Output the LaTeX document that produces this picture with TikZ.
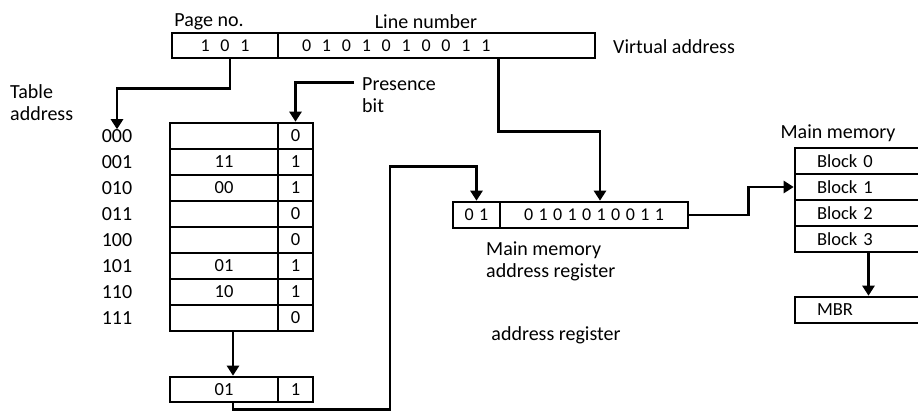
\documentclass[tikz,border=0pt]{standalone}
\usepackage{fontspec}
\setmainfont{Carlito}
\newfontfamily\widebits[LetterSpace=60]{Carlito}
\newfontfamily\tightbits[LetterSpace=30]{Carlito}
\usepackage{tikz}
\usetikzlibrary{arrows.meta,positioning}

\begin{document}
\begin{tikzpicture}[
    x=1pt, y=-1pt,
    cell/.style = {rectangle, draw, line width=2.6pt, inner sep=0pt, minimum height=26pt, font=\fontsize{18.5}{22}\selectfont},
    blockcell/.style = {cell, minimum height=26pt, text width=111pt, inner xsep=22pt, align=left},
    txt/.style = {inner sep=0pt, font=\fontsize{20}{22}\selectfont, align=left},
    arrow/.style = {-{Triangle[length=10pt,width=12pt]}, line width=2.6pt}
]
    \useasboundingbox (0,0) rectangle (918,410);
    \clip (0,0) rectangle (918,410);

    % Virtual address
    \node [cell, minimum width=106pt, minimum height=25pt, font=\fontsize{18}{22}\widebits] (pg) at (225,45.5) {101};
    \node [cell, minimum width=317pt, minimum height=25pt, text width=269pt, inner xsep=24pt, align=left, font=\fontsize{18}{22}\widebits] (ln) at (436.5,45.5) {0101010011};
    \node [txt] (pglabel) at (209,22) {Page no.};
    \node [txt] (lnlabel) at (426,22) {Line number};
    \node [txt, anchor=west] (valabel) at (613,47) {Virtual address};

    % Page table
    \node [txt, anchor=north west] (tablabel) at (10,84) {Table\\address};
    \node [txt, anchor=north west] (pres) at (362,77) {Presence\\bit};
    \foreach \code/\pg/\bt [count=\i from 0] in {000//0, 001/11/1, 010/00/1, 011//0, 100//0, 101/01/1, 110/10/1, 111//0}
    {
        \node [cell, minimum width=108pt] (v\i) at (224,136+26*\i) {\pg};
        \node [cell, minimum width=35pt] (b\i) at (295.5,136+26*\i) {\bt};
        \node [txt] (t\i) at (117,136+26*\i) {\code};
    }

    % Selected entry
    \node [cell, minimum width=108pt, minimum height=25pt] (rv) at (224,389.5) {01};
    \node [cell, minimum width=35pt, minimum height=25pt] (rb) at (295.5,389.5) {1};

    % Main memory address register
    \node [cell, minimum width=47pt, font=\fontsize{18}{22}\tightbits] (mp) at (476.5,215) {01};
    \node [cell, minimum width=188pt, font=\fontsize{18}{22}\tightbits] (ml) at (594,215) {0101010011};
    \node [txt, anchor=north west] (marlabel) at (486,242) {Main memory\\address register};
    \node [txt] (reglabel) at (556,335) {address register};

    % Main memory
    \node [txt] (memlabel) at (838,133) {Main memory};
    \foreach \i in {0,...,3}
        \node [blockcell] (blk\i) at (872.5,161+26*\i) {Block \i};
    \node [blockcell] (mbr) at (872.5,310) {MBR};

    % Connections
    \draw [arrow] ([xshift=5pt]pg.south) -- ++(0,29) -| (t0.north);
    \draw [arrow] ([xshift=-8pt,yshift=12pt]pres.west) -| (b0.north);
    \draw [arrow] ([xshift=9pt]v7.south) -- ([xshift=9pt]rv.north);
    \draw [arrow] ([xshift=9pt]rv.south) -- ++(0,6) -- ++(157,0) -- ++(0,-243) -| (mp.north);
    \draw [arrow] ([xshift=62pt]ln.south) -- ++(0,72) -| ([xshift=6pt]ml.north);
    \draw [arrow] (ml.east) -- ++(59,0) |- (blk1.west);
    \draw [arrow] ([xshift=-4pt]blk3.south) -- ([xshift=-4pt]mbr.north);
\end{tikzpicture}
\end{document}
